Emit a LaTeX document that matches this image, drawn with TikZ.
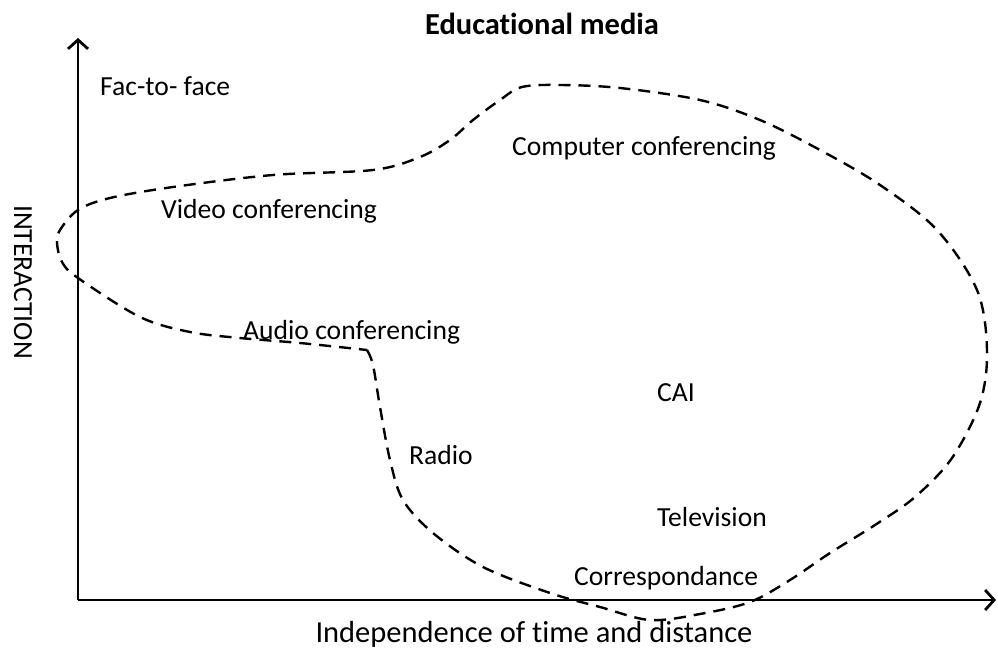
\documentclass[tikz,border=0pt]{standalone}
\usepackage{fontspec}
\setmainfont{Carlito}[Ligatures=NoCommon]
\usetikzlibrary{arrows.meta}
\begin{document}
\begin{tikzpicture}[x=1pt,y=-1pt,
  lbl/.style={inner sep=0pt,anchor=west,font=\fontsize{27.6}{32}\selectfont},
  axis/.style={line width=2.8pt,-{Straight Barb[length=9pt,width=20pt,line width=2.8pt]}},
  region/.style={line width=2.4pt,dash pattern=on 12pt off 8pt}]
\useasboundingbox (0,0) rectangle (998,650);
\coordinate (O) at (78,600);
\coordinate (Ytop) at (78,38);
\coordinate (Xend) at (996,600);
\draw[axis] (O) -- (Ytop);
\draw[axis] (O) -- (Xend);
\draw[region] plot[smooth,tension=0.55] coordinates {
(367,350)(373,365)(380,407)(390,460)(403,500)(433,533)(483,567)(550,593)(600,607)(650,620)(700,614)(750,602)(790,580)(830,553)(875,525)(915,497)(952,458)(980,403)(987,350)(977,290)(937,230)(880,185)(820,150)(760,120)(700,100)(620,88)(560,85)(522,87)(500,100)(473,120)(450,140)(420,157)(373,170)(273,175)(173,187)(110,198)(78,210)(60,230)(57,243)(62,262)(78,278)(140,317)(190,332)(240,338)(300,343)(367,350)};
\node[font=\fontsize{30.5}{34}\selectfont\bfseries,inner sep=0pt] (title) at (542,24) {Educational media};
\node[lbl] (f2f) at (100,86) {Fac-to- face};
\node[lbl] (comp) at (512,148) {Computer conferencing};
\node[lbl] (video) at (161,211) {Video conferencing};
\node[lbl] (audio) at (243,332) {Audio conferencing};
\node[lbl] (cai) at (657,393) {CAI};
\node[lbl] (radio) at (409,455) {Radio};
\node[lbl] (tv) at (657,517) {Television};
\node[lbl] (corr) at (574,578) {Correspondance};
\node[inner sep=0pt,font=\fontsize{30.5}{34}\selectfont] (xlab) at (534,634) {Independence of time and distance};
\node[inner sep=0pt,rotate=-90,font=\fontsize{27.6}{32}\selectfont] (ylab) at (23,282) {INTERACTION};
\end{tikzpicture}
\end{document}
